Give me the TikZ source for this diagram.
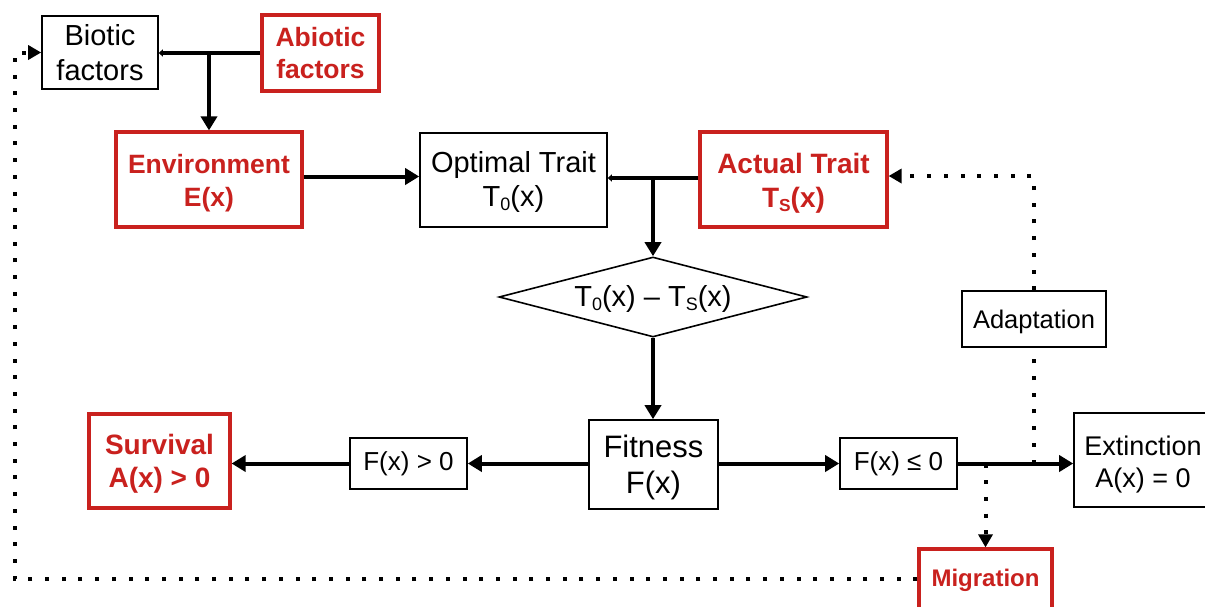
\documentclass[tikz,border=0pt]{standalone}
\usepackage{fontspec}
\setmainfont{Liberation Sans}
\usepackage{graphicx}
\usetikzlibrary{arrows.meta,shapes.geometric}
\definecolor{boxred}{RGB}{201,33,30}
% small lowered index, as in T0(x)
\newcommand\lowsub[1]{\raisebox{-0.12em}{\scalebox{0.62}{#1}}}
% extra room above the first line, lowering the text block
\newcommand\lowertext[1]{\rule{0pt}{\dimexpr 0.73em + #1\relax}}

\begin{document}
\begin{tikzpicture}[x=1pt,y=-1pt,
  box/.style={draw=black, line width=1.6pt, inner sep=0pt, align=center, text=black},
  redbox/.style={draw=boxred, line width=3.2pt, inner sep=0pt, align=center, text=boxred,
                 execute at begin node=\bfseries},
  sz/.style 2 args={font=\fontsize{#1}{#2}\selectfont},
  flow/.style={line width=4pt, -{Triangle[length=14pt,width=16pt]}},
  joinline/.style={line width=4pt, -{Triangle[length=4pt,width=7pt]}},
  dots/.style={line width=4pt, dash pattern=on 4pt off 12.7pt},
  dotflow/.style={dots, -{Triangle[length=13pt,width=14pt]}}]

\clip (0,0) rectangle (1205,606);
\fill[white] (0,0) rectangle (1205,606);

% nodes
\node[box, sz={29}{35}, minimum width=116, minimum height=73] (bio) at (100,52.5) {Biotic\\factors};
\node[redbox, sz={26.5}{32}, minimum width=117, minimum height=76] (abio) at (320.5,53) {Abiotic\\factors};
\node[redbox, sz={26.5}{33}, minimum width=186, minimum height=95] (env) at (209,179.5) {\lowertext{8pt}Environment\\E(x)};
\node[box, sz={29}{34}, minimum width=187, minimum height=94] (opt) at (513.5,180) {\lowertext{4pt}Optimal Trait\\T\lowsub{0}(x)};
\node[redbox, sz={28}{34}, minimum width=187, minimum height=95] (act) at (793.5,179.5) {\lowertext{8pt}Actual Trait\\T\lowsub{S}(x)};
\node[draw=black, line width=1.6pt, diamond, aspect=3.85, minimum width=308, minimum height=80,
      inner sep=0pt, sz={29}{34}] (diff) at (653,297) {\lowertext{4pt}T\lowsub{0}(x) – T\lowsub{S}(x)};
\node[box, sz={31}{36}, minimum width=129, minimum height=89] (fit) at (653.5,464.5) {\lowertext{6pt}Fitness\\F(x)};
\node[box, sz={26}{31}, minimum width=117, minimum height=51] (fpos) at (408.5,463.5) {F(x) > 0};
\node[redbox, sz={28}{33}, minimum width=141, minimum height=94] (surv) at (159.5,461) {\lowertext{6pt}Survival\\A(x) > 0};
\node[box, sz={26}{31}, minimum width=117, minimum height=51] (fneg) at (898.5,463.5) {F(x) ≤ 0};
\node[box, sz={27}{32}, minimum width=138, minimum height=94] (ext) at (1143,460) {\lowertext{8pt}Extinction\\A(x) = 0};
\node[redbox, sz={24}{29}, minimum width=133, minimum height=62] (mig) at (985.5,580) {Migration};
\node[box, sz={25.5}{30}, minimum width=144, minimum height=56] (adapt) at (1034,319) {\lowertext{6pt}Adaptation};

% junction points
\coordinate (jabio) at (abio.west |- 0,53);
\coordinate (jact) at (act.west |- 0,178);
\coordinate (jfneg) at (fneg.east);
\coordinate (cornerTop) at (adapt.north |- 0,176);
\coordinate (loopBL) at (15,579);
\coordinate (loopTL) at (15,52.5);

% solid connectors
\draw[joinline] (jabio) -- (jabio -| bio.east);
\draw[flow] (jabio -| env.north) -- (env.north);
\draw[flow] ([yshift=3pt]env.east) -- ([yshift=3pt]env.east -| opt.west);
\draw[joinline] (jact) -- (jact -| opt.east);
\draw[flow] (jact -| diff.north) -- (diff.north);
\draw[flow] (diff.south) -- (diff.south |- fit.north);
\draw[flow] (fit.west |- fpos.east) -- (fpos.east);
\draw[flow] (fpos.west) -- (fpos.west -| surv.east);
\draw[flow] (fit.east |- fneg.west) -- (fneg.west);
\draw[flow] (jfneg) -- (jfneg -| ext.west);

% dotted connectors
\draw[dotflow] (jfneg -| mig.north) -- (mig.north);
\draw[dots] (jfneg -| adapt.south) -- (adapt.south);
\draw[dotflow] (adapt.north) -- (cornerTop) -- (cornerTop -| act.east);
\draw[dotflow] (mig.west |- loopBL) -- (loopBL) -- (loopTL) -- (bio.west |- loopTL);
\end{tikzpicture}
\end{document}
